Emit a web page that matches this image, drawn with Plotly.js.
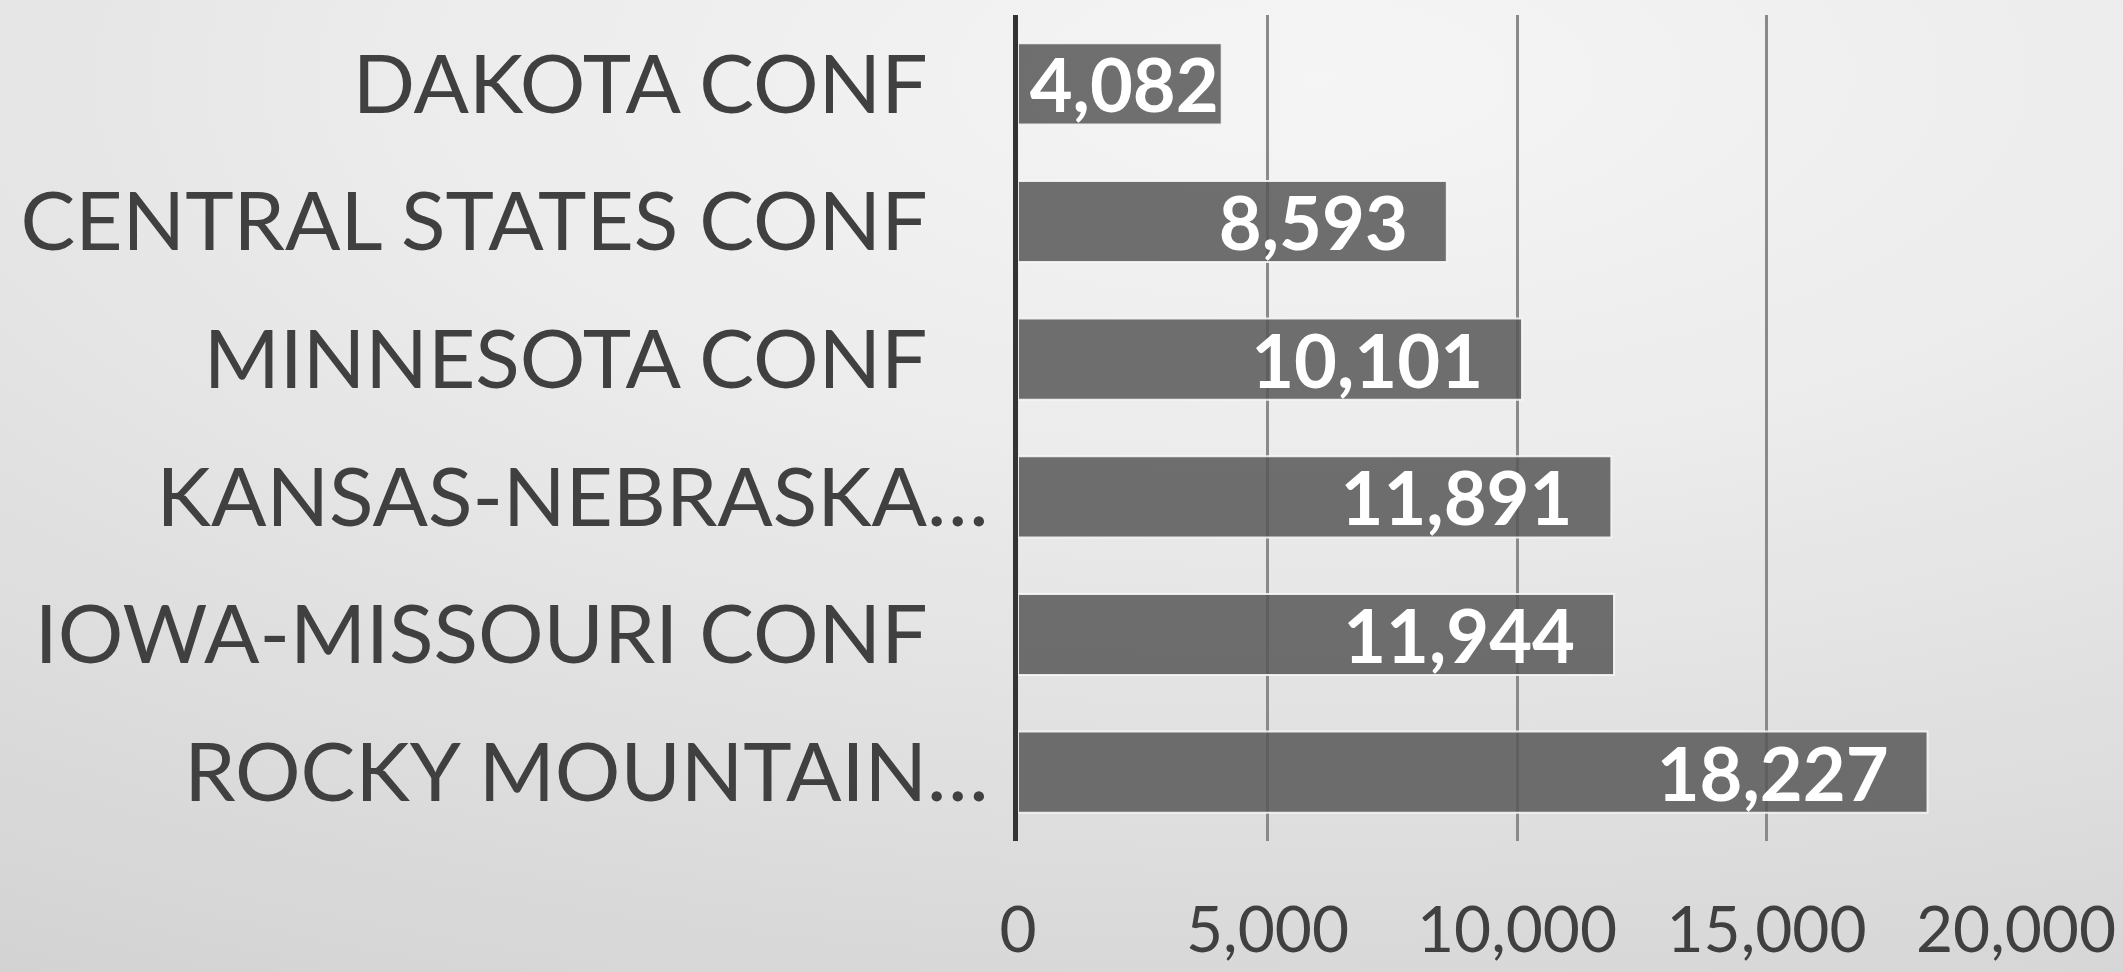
<!DOCTYPE html>
<html>
<head>
<meta charset="utf-8">
<script src="https://cdn.plot.ly/plotly-3.0.1.min.js"></script>
<style>
  html, body { margin: 0; padding: 0; }
  body {
    width: 2123px; height: 972px; overflow: hidden;
    background: radial-gradient(ellipse 120% 110% at 62% 8%, #f5f5f5 0%, #ececec 35%, #dedede 70%, #d2d2d2 100%);
  }
  #chart { width: 2123px; height: 972px; }
</style>
</head>
<body>
<div id="chart"></div>
<script>
// Data (top to bottom as displayed)
const categories = ['DAKOTA CONF', 'CENTRAL STATES CONF', 'MINNESOTA CONF', 'KANSAS-NEBRASKA\u2026', 'IOWA-MISSOURI CONF', 'ROCKY MOUNTAIN\u2026'];
const members = [4082, 8593, 10101, 11891, 11944, 18227];
const xTickVals = [0, 5000, 10000, 15000, 20000];
const xTickText = ['0', '5,000', '10,000', '15,000', '20,000'];

const NB = '\u00a0';
const fmt = v => v.toLocaleString('en-US');
// inside-end label, with a small gap from the bar end when the bar is long enough
const barText = members.map(v => fmt(v) + (v > 6000 ? NB + NB : ''));
// truncated labels (ending in an ellipsis) overhang the others, as in the original
const yTickText = categories.map(c => c.endsWith('\u2026') ? c : c + NB + NB + NB);

const trace = {
  type: 'bar',
  orientation: 'h',
  x: members,
  y: categories,
  text: barText,
  textposition: 'inside',
  insidetextanchor: 'end',
  constraintext: 'none',
  textfont: { family: 'Lato, sans-serif', size: 74, color: '#ffffff', weight: 'bold' },
  marker: {
    color: 'rgba(88,88,88,0.86)',
    line: { color: 'rgba(246,246,246,0.9)', width: 2 }
  },
  hoverinfo: 'none'
};

const layout = {
  width: 2123,
  height: 972,
  paper_bgcolor: 'rgba(0,0,0,0)',
  plot_bgcolor: 'rgba(0,0,0,0)',
  margin: { l: 1018, r: 107, t: 15, b: 131, pad: 0 },
  bargap: 0.41,
  showlegend: false,
  font: { family: 'Lato, sans-serif', color: '#404040' },
  xaxis: {
    range: [0, 20000],
    tickvals: xTickVals,
    ticktext: xTickText,
    showgrid: true,
    gridcolor: '#8a8a8a',
    gridwidth: 3,
    zeroline: false,
    showline: false,
    ticks: '',
    ticklabelstandoff: 46,
    tickfont: { family: 'Lato, sans-serif', size: 64, color: '#404040' }
  },
  yaxis: {
    type: 'category',
    autorange: 'reversed',
    tickvals: categories,
    ticktext: yTickText,
    showgrid: false,
    zeroline: false,
    showline: true,
    linecolor: '#333333',
    linewidth: 5,
    ticks: '',
    ticklabelstandoff: 8,
    tickfont: { family: 'Lato, sans-serif', size: 82, color: '#404040' }
  }
};

Plotly.newPlot('chart', [trace], layout, { displayModeBar: false, staticPlot: true });
</script>
</body>
</html>
